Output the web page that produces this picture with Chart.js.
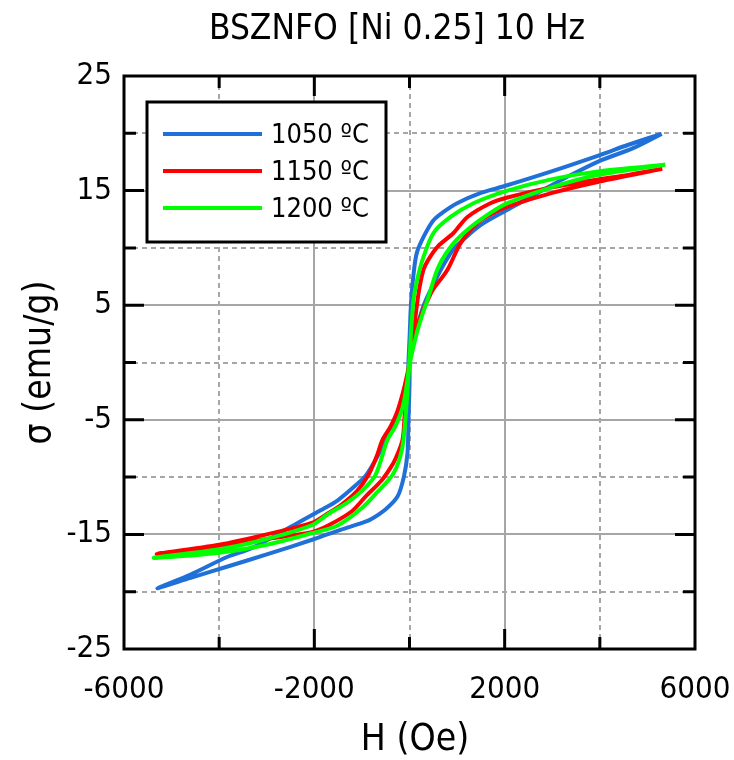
<!DOCTYPE html>
<html>
<head>
<meta charset="utf-8">
<script src="https://cdn.jsdelivr.net/npm/chart.js@4.4.0/dist/chart.umd.min.js"></script>
<style>
  body { margin: 0; background: #fff; }
</style>
</head>
<body>
<canvas id="loopChart" width="734" height="760"></canvas>
<script>
// hysteresis loops: descending branch then ascending branch
var H_1050 = [5300, 4600, 4000, 3000, 2000, 1500, 1000, 700, 500, 300, 150, 80, 30, 5, -20, -45, -150, -300, -500, -714, -924, -1071, -1500, -1869, -2478, -3318, -3822, -4600, -5300,
              -4600, -3822, -3000, -2000, -1449, -1000, -819, -500, -252, -120, -42, -21, 0, 20, 150, 300, 500, 714, 924, 1071, 1500, 2000, 2478, 3318, 4000, 4700, 5300];
var S_1050 = [19.95, 19.0, 18.1, 16.7, 15.4, 14.8, 13.9, 13.1, 12.4, 11.0, 9.5, 7.5, 5.0, 2.5, 0.2, -2.0, -3.0, -5.0, -6.8, -8.5, -9.9, -10.5, -12.0, -12.9, -14.3, -16.2, -16.95, -18.5, -19.7,
              -18.8, -17.8, -16.75, -15.4, -14.6, -14.0, -13.7, -12.8, -11.7, -10.0, -7.9, -5.0, -2.0, 1.0, 3.0, 5.0, 6.8, 8.5, 9.9, 10.5, 12.0, 13.2, 14.3, 16.2, 17.6, 18.7, 19.95];

var H_1150 = [5313, 4500, 4000, 3000, 2058, 1700, 1218, 924, 588, 400, 294, 200, 140, 70, 0, -100, -250, -400, -567, -700, -861, -1100, -1428, -1764, -2058, -3000, -4000, -5313,
              -4000, -3000, -2058, -1700, -1218, -924, -588, -400, -294, -147, -100, -50, 0, 100, 250, 400, 483, 798, 1071, 1428, 1764, 2058, 3000, 4000, 5313];
var S_1150 = [16.9, 16.3, 16.0, 15.3, 14.4, 13.9, 12.7, 11.3, 10.1, 9.0, 8.1, 6.3, 4.5, 2.0, 0, -2.0, -4.2, -5.6, -6.75, -8.3, -9.8, -11.2, -12.4, -13.3, -14.0, -15.0, -15.9, -16.7,
              -16.1, -15.4, -14.8, -14.2, -13.0, -11.7, -10.3, -9.2, -8.4, -6.75, -4.5, -2.0, 0, 2.0, 4.2, 5.6, 6.3, 8.1, 10.4, 12.2, 13.05, 13.6, 14.8, 15.8, 16.9];

var H_1200 = [5376, 4000, 3000, 2058, 1344, 861, 504, 273, 150, 84, 30, 0, -60, -150, -300, -462, -714, -1000, -1300, -1700, -2058, -3000, -4000, -5376,
              -4000, -3000, -2058, -1500, -1000, -700, -357, -200, -126, -50, 0, 150, 280, 378, 609, 924, 1281, 1700, 2058, 3000, 4000, 5376];
var S_1200 = [17.25, 16.7, 16.0, 15.0, 13.9, 12.7, 11.3, 8.95, 7.0, 5.45, 2.5, 0.3, -2.0, -4.0, -5.6, -6.75, -9.8, -11.2, -12.2, -13.2, -14.2, -15.4, -16.3, -17.05,
              -16.6, -15.9, -14.9, -14.2, -12.7, -11.4, -9.8, -8.3, -6.75, -3.0, -0.3, 2.5, 4.3, 5.45, 8.35, 10.4, 11.8, 13.05, 13.9, 15.3, 16.4, 17.25];

var seriesNames = ['1050 ºC', '1150 ºC', '1200 ºC'];
var seriesColors = ['#1f70d8', '#ff0000', '#00ff00'];

var xLabelTicks = [-6000, -2000, 2000, 6000];
var yLabelTicks = [25, 15, 5, -5, -15, -25];

var FONT = "'DejaVu Sans Condensed', 'DejaVu Sans', sans-serif";

function toPoints(h, s) {
    return h.map(function (v, i) { return { x: v, y: s[i] }; });
}

function isLabelled(list, v) {
    return list.indexOf(v) !== -1;
}

var frame = {
    id: 'frame',
    afterDraw: function (chart) {
        var ctx = chart.ctx;
        var a = chart.chartArea;
        var xs = chart.scales.x, ys = chart.scales.y;
        ctx.save();
        ctx.strokeStyle = '#000';
        ctx.lineWidth = 3;
        // inward tick marks on all four sides
        xs.ticks.forEach(function (t) {
            if (t.value <= xs.min || t.value >= xs.max) return;
            var px = xs.getPixelForValue(t.value);
            var len = isLabelled(xLabelTicks, t.value) ? 20 : 12;
            ctx.beginPath();
            ctx.moveTo(px, a.bottom); ctx.lineTo(px, a.bottom - len);
            ctx.moveTo(px, a.top); ctx.lineTo(px, a.top + len);
            ctx.stroke();
        });
        ys.ticks.forEach(function (t) {
            if (t.value <= ys.min || t.value >= ys.max) return;
            var py = ys.getPixelForValue(t.value);
            var len = isLabelled(yLabelTicks, t.value) ? 20 : 12;
            ctx.beginPath();
            ctx.moveTo(a.left, py); ctx.lineTo(a.left + len, py);
            ctx.moveTo(a.right, py); ctx.lineTo(a.right - len, py);
            ctx.stroke();
        });
        ctx.strokeRect(a.left, a.top, a.right - a.left, a.bottom - a.top);

        // legend
        var lx = 147, ly = 102, lw = 239, lh = 140;
        ctx.fillStyle = '#fff';
        ctx.fillRect(lx, ly, lw, lh);
        ctx.strokeRect(lx, ly, lw, lh);
        ctx.font = '27px ' + FONT;
        ctx.textBaseline = 'middle';
        ctx.textAlign = 'left';
        chart.data.datasets.forEach(function (ds, i) {
            var y = ly + 32 + i * 37;
            ctx.strokeStyle = ds.borderColor;
            ctx.lineWidth = 4;
            ctx.beginPath();
            ctx.moveTo(lx + 16, y); ctx.lineTo(lx + 115, y);
            ctx.stroke();
            ctx.fillStyle = '#000';
            ctx.fillText(ds.label, lx + 124, y + 2);
        });

        // title and axis titles
        ctx.fillStyle = '#000';
        ctx.textAlign = 'center';
        ctx.font = '35px ' + FONT;
        ctx.fillText('BSZNFO [Ni 0.25] 10 Hz', 397, 30);
        ctx.font = '37px ' + FONT;
        ctx.fillText('H (Oe)', 415, 740);
        ctx.translate(40, (a.top + a.bottom) / 2);
        ctx.rotate(-Math.PI / 2);
        ctx.fillText('σ (emu/g)', 0, 0);
        ctx.restore();
    }
};

var ctx = document.getElementById('loopChart').getContext('2d');
var loopChart = new Chart(ctx, {
    type: 'scatter',
    data: {
        datasets: [
            { label: seriesNames[0], data: toPoints(H_1050, S_1050), borderColor: seriesColors[0], order: 3 },
            { label: seriesNames[1], data: toPoints(H_1150, S_1150), borderColor: seriesColors[1], order: 2 },
            { label: seriesNames[2], data: toPoints(H_1200, S_1200), borderColor: seriesColors[2], order: 1 }
        ]
    },
    options: {
        responsive: false,
        animation: false,
        datasets: {
            scatter: {
                showLine: true,
                pointRadius: 0,
                borderWidth: 4,
                tension: 0.3,
                fill: false
            }
        },
        layout: { padding: { top: 76, right: 39, left: 0, bottom: 0 } },
        plugins: {
            legend: { display: false },
            title: { display: false },
            tooltip: { enabled: false }
        },
        scales: {
            x: {
                type: 'linear',
                min: -6000,
                max: 6000,
                afterFit: function (scale) {
                    scale.height = 111;
                    scale.paddingLeft = 0;
                    scale.paddingRight = 0;
                },
                ticks: {
                    stepSize: 2000,
                    autoSkip: false,
                    maxRotation: 0,
                    padding: 22,
                    color: '#000',
                    font: { family: FONT, size: 31 },
                    callback: function (value) {
                        return isLabelled(xLabelTicks, value) ? String(value) : '';
                    }
                },
                grid: { color: '#a6a6a6', lineWidth: 2, drawTicks: false },
                border: {
                    display: false,
                    dash: function (c) { return c.tick && isLabelled(xLabelTicks, c.tick.value) ? [] : [5, 4]; }
                }
            },
            y: {
                type: 'linear',
                min: -25,
                max: 25,
                afterFit: function (scale) {
                    scale.width = 124;
                    scale.paddingTop = 0;
                    scale.paddingBottom = 0;
                },
                ticks: {
                    stepSize: 5,
                    autoSkip: false,
                    padding: 12,
                    color: '#000',
                    font: { family: FONT, size: 31 },
                    callback: function (value) {
                        return isLabelled(yLabelTicks, value) ? String(value) : '';
                    }
                },
                grid: { color: '#a6a6a6', lineWidth: 2, drawTicks: false },
                border: {
                    display: false,
                    dash: function (c) { return c.tick && isLabelled(yLabelTicks, c.tick.value) ? [] : [5, 4]; }
                }
            }
        }
    },
    plugins: [frame]
});
</script>
</body>
</html>
